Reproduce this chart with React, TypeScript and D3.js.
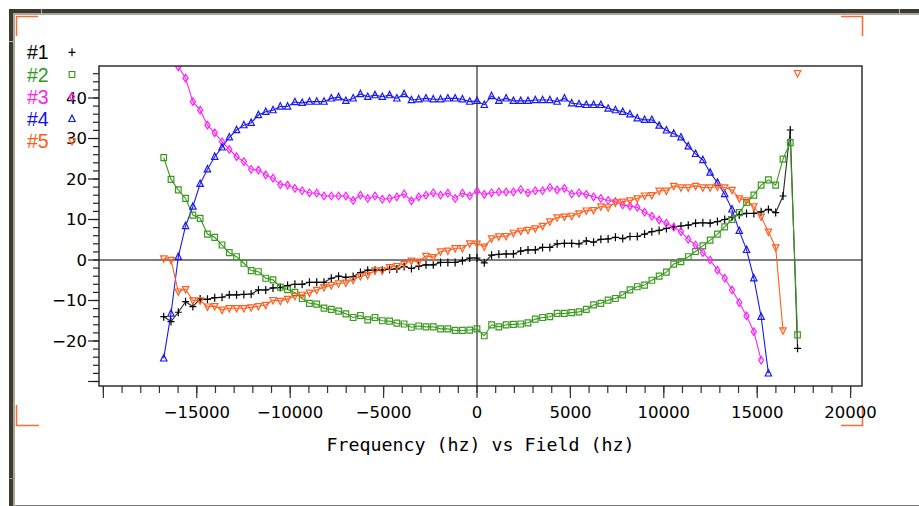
import React from "react";
import * as d3 from "d3";

// Frequency samples (Hz)
const freqs = [
  -16770, -16380, -15990, -15600, -15210, -14820, -14430, -14040, -13650, -13260,
  -12870, -12480, -12090, -11700, -11310, -10920, -10530, -10140, -9750, -9360,
  -8970, -8580, -8190, -7800, -7410, -7020, -6630, -6240, -5850, -5460,
  -5070, -4680, -4290, -3900, -3510, -3120, -2730, -2340, -1950, -1560,
  -1170, -780, -390, 0, 390, 780, 1170, 1560, 1950, 2340,
  2730, 3120, 3510, 3900, 4290, 4680, 5070, 5460, 5850, 6240,
  6630, 7020, 7410, 7800, 8190, 8580, 8970, 9360, 9750, 10140,
  10530, 10920, 11310, 11700, 12090, 12480, 12870, 13260, 13650, 14040,
  14430, 14820, 15210, 15600, 15990, 16380, 16770, 17160,
];

const series1: (number | null)[] = [
  -14.0, -15.2, -12.9, -10.3, -11.5, -9.6, -9.7, -9.3, -9.2, -8.6,
  -8.6, -8.5, -8.4, -7.4, -7.4, -6.9, -6.8, -6.3, -6.0, -6.0,
  -5.5, -5.5, -5.5, -4.5, -4.0, -4.3, -4.1, -3.1, -2.5, -2.5,
  -2.5, -2.3, -2.2, -1.6, -2.1, -1.5, -1.2, -1.2, -0.6, -0.6,
  -0.6, -0.2, 0.5, 0.5, -0.7, 1.2, 1.4, 1.5, 1.5, 2.2,
  2.5, 2.5, 3.1, 3.1, 4.0, 4.1, 4.1, 4.0, 4.7, 4.4,
  5.1, 5.2, 5.6, 5.3, 5.8, 5.8, 6.4, 7.0, 7.3, 7.8,
  8.2, 8.4, 8.6, 9.1, 9.2, 9.1, 9.5, 10.0, 10.7, 11.1,
  11.5, 11.5, 11.9, 12.5, 11.7, 15.8, 32.1, -21.8,
];

const series2: (number | null)[] = [
  25.3, 19.9, 17.3, 15.2, 11.1, 10.3, 6.4, 5.6, 3.7, 1.8,
  0.8, -0.8, -2.6, -2.9, -4.5, -4.9, -6.7, -7.3, -8.0, -9.5,
  -10.7, -10.9, -11.9, -12.2, -12.6, -13.3, -14.2, -13.7, -14.8, -14.2,
  -15.0, -15.1, -15.6, -15.8, -16.6, -16.3, -16.5, -16.5, -17.0, -17.0,
  -17.4, -17.4, -17.3, -17.0, -18.7, -16.0, -16.5, -16.0, -15.9, -15.8,
  -15.5, -14.6, -14.2, -14.0, -13.2, -13.2, -13.0, -12.8, -12.2, -11.1,
  -10.7, -9.9, -9.5, -8.6, -7.4, -6.6, -6.2, -5.0, -4.0, -3.0,
  -1.0, -0.4, 0.8, 2.1, 3.5, 4.9, 6.4, 8.2, 10.0, 11.7,
  14.2, 16.0, 18.5, 19.8, 18.5, 24.9, 29.0, -18.5,
];

const series3: (number | null)[] = [
  60.0, 53.0, 47.7, 44.9, 39.1, 37.0, 33.3, 31.4, 29.2, 27.3,
  25.5, 24.3, 22.4, 22.2, 21.0, 20.2, 18.6, 18.5, 17.7, 17.1,
  16.6, 16.5, 15.8, 15.8, 15.8, 15.8, 14.7, 16.0, 15.2, 15.8,
  15.0, 15.2, 15.6, 16.3, 14.6, 15.6, 16.0, 16.6, 16.0, 16.5,
  15.2, 16.5, 15.8, 17.0, 16.2, 16.6, 16.8, 16.8, 16.8, 17.4,
  16.6, 17.1, 17.1, 17.9, 17.3, 17.7, 16.3, 16.6, 16.2, 15.6,
  15.2, 14.7, 14.4, 13.6, 13.3, 13.0, 11.8, 10.8, 9.9, 9.1,
  8.1, 7.0, 5.1, 3.7, 1.8, 0.0, -2.5, -4.5, -7.4, -10.5,
  -13.8, -17.7, -24.7, null, null, null, null, null,
];

const series4: (number | null)[] = [
  -24.3, -13.2, 0.8, 8.4, 13.2, 18.8, 22.4, 25.5, 27.8, 30.3,
  32.1, 33.3, 33.9, 35.8, 36.6, 37.0, 37.9, 37.9, 39.0, 38.8,
  39.1, 39.1, 39.1, 39.9, 40.2, 39.3, 39.9, 41.0, 40.3, 40.7,
  40.3, 40.7, 39.9, 41.0, 39.5, 39.7, 39.9, 39.7, 39.7, 39.9,
  39.9, 39.7, 39.1, 39.3, 38.3, 40.5, 39.3, 39.9, 39.3, 39.3,
  39.3, 39.5, 39.5, 39.5, 39.1, 39.9, 38.7, 38.5, 38.3, 38.3,
  38.3, 37.4, 37.0, 36.6, 36.0, 35.0, 34.6, 34.6, 33.2, 32.0,
  31.2, 30.3, 28.1, 26.2, 24.7, 21.6, 19.1, 16.3, 12.5, 7.2,
  2.5, -4.5, -14.0, -28.0, null, null, null, null,
];

const series5: (number | null)[] = [
  0.4, 0.0, -7.8, -7.2, -10.0, -10.0, -11.5, -11.4, -12.3, -11.9,
  -11.9, -11.9, -11.7, -11.4, -11.1, -9.9, -10.1, -9.6, -8.9, -8.6,
  -8.1, -7.4, -6.7, -6.2, -5.8, -5.6, -4.9, -4.0, -3.7, -2.6,
  -2.6, -1.8, -1.5, -1.0, -0.2, -0.4, 1.0, 0.7, 2.1, 2.3,
  2.9, 2.9, 4.1, 4.0, 3.3, 5.3, 5.8, 5.9, 6.7, 7.2,
  7.4, 7.8, 8.4, 9.5, 10.5, 10.7, 10.9, 11.5, 12.2, 12.3,
  13.2, 13.0, 14.2, 14.4, 14.7, 15.2, 15.9, 16.0, 17.1, 17.1,
  18.3, 17.9, 17.9, 18.3, 17.9, 17.9, 18.1, 17.9, 17.3, 15.2,
  14.7, 13.2, 10.7, 7.0, 3.1, -17.4, null, 46.1,
];

const seriesNames = ["#1", "#2", "#3", "#4", "#5"];
const seriesColors = ["#000000", "#3a9a1e", "#ff22ff", "#1a1aee", "#ff5f1f"];
const legendColors = ["#000000", "#2f9a1a", "#ff22ee", "#1212e6", "#ff5a14"];
const seriesMarkers = ["plus", "square", "diamond", "triUp", "triDown"];
const allSeries = [series1, series2, series3, series4, series5];

const xMajorTicks = [-20000, -15000, -10000, -5000, 0, 5000, 10000, 15000, 20000];
const xTickLabels = ["", "−15000", "−10000", "−5000", "0", "5000", "10000", "15000", "20000"];
const yMajorTicks = [-30, -20, -10, 0, 10, 20, 30, 40];
const yTickLabels = ["", "−20", "−10", "0", "10", "20", "30", "40"];

const xTitle = "Frequency (hz) vs Field (hz)";

const W = 919;
const H = 506;
const PL = 99;
const PR = 862;
const PT = 66;
const PB = 386;

function markerPath(kind: string, x: number, y: number): string {
  switch (kind) {
    case "plus":
      return `M${x - 3.5},${y}H${x + 3.5}M${x},${y - 4}V${y + 4}`;
    case "square":
      return `M${x - 2.8},${y - 3}h5.6v6h-5.6Z`;
    case "diamond":
      return `M${x},${y - 3.8}L${x + 2.6},${y}L${x},${y + 3.8}L${x - 2.6},${y}Z`;
    case "triUp":
      return `M${x},${y - 3.8}L${x + 3.2},${y + 2.6}L${x - 3.2},${y + 2.6}Z`;
    case "triDown":
      return `M${x},${y + 3.8}L${x + 3.2},${y - 2.6}L${x - 3.2},${y - 2.6}Z`;
    default:
      return "";
  }
}

export default function App() {
  const x = d3.scaleLinear().domain([-20235, 20610]).range([PL, PR]);
  const y = d3.scaleLinear().domain([(260 - PB) / 4.05, (260 - PT) / 4.05]).range([PB, PT]);

  const xMinor = d3.range(-20000, 20001, 1000);
  const yMinor = d3.range(-30, 47, 2);

  const line = d3
    .line<number | null>()
    .defined((d) => d !== null)
    .x((_, i) => x(freqs[i]))
    .y((d) => y(d as number));

  const tickFont = "'DejaVu Sans', sans-serif";
  const orange = "#ff6a33";

  const legendBase = [59.3, 81.5, 103.7, 125.9, 148.1];

  return (
    <div style={{ position: "fixed", left: 0, top: 0, width: W, height: H, background: "#fff" }}>
      <svg width={W} height={H} viewBox={`0 0 ${W} ${H}`} style={{ display: "block" }}>
        <defs>
          <clipPath id="plotClip">
            <rect x={PL} y={PT} width={PR - PL} height={PB - PT} />
          </clipPath>
        </defs>
        <rect x={0} y={0} width={W} height={H} fill="#ffffff" />

        {/* window frame */}
        <rect x={9} y={9} width={W - 9} height={4} fill="#3c3b32" />
        <rect x={13} y={13} width={W - 13} height={2} fill="#a8a698" />
        <rect x={9} y={9} width={4} height={H - 9} fill="#3c3b32" />
        <rect x={13} y={13} width={2} height={H - 13} fill="#a8a698" />
        <line x1={41.5} y1={9} x2={41.5} y2={15} stroke="#b8b6aa" strokeWidth={1} />
        <line x1={899.5} y1={9} x2={899.5} y2={15} stroke="#b8b6aa" strokeWidth={1} />
        <line x1={9} y1={41.5} x2={15} y2={41.5} stroke="#b8b6aa" strokeWidth={1} />
        <line x1={9} y1={478.5} x2={15} y2={478.5} stroke="#8a887c" strokeWidth={1} />
        <line x1={15} y1={505.5} x2={W} y2={505.5} stroke="#777" strokeWidth={1} />

        {/* corner marks */}
        <g stroke={orange} strokeWidth={1.5} fill="none">
          <path d="M16.5,36 V16.5 H38" />
          <path d="M841,16.5 H862.5 V36" />
          <path d="M16.5,405 V425.5 H39" />
          <path d="M841,425.5 H862.5 V405" />
        </g>

        {/* x ticks */}
        <g stroke="#333" strokeWidth={1.2}>
          {xMinor.map((t) => (
            <line key={"xm" + t} x1={x(t)} x2={x(t)} y1={PB} y2={PB + 7} />
          ))}
          {xMajorTicks.map((t) => (
            <line key={"xM" + t} x1={x(t)} x2={x(t)} y1={PB} y2={PB + 12} />
          ))}
        </g>
        <g fontFamily={tickFont} fontSize={16.5} fill="#000" textAnchor="middle">
          {xMajorTicks.map((t, i) => (
            <text key={"xl" + t} x={x(t)} y={418}>
              {xTickLabels[i]}
            </text>
          ))}
        </g>

        {/* y ticks */}
        <g stroke="#222" strokeWidth={1.2}>
          {yMinor.map((t) => (
            <line key={"ym" + t} x1={PL - 6} x2={PL} y1={y(t)} y2={y(t)} />
          ))}
          {yMajorTicks.map((t) => (
            <line key={"yM" + t} x1={PL - 11} x2={PL} y1={y(t)} y2={y(t)} />
          ))}
        </g>
        <g fontFamily={tickFont} fontSize={16.5} fill="#000" textAnchor="end">
          {yMajorTicks.map((t, i) => (
            <text key={"yl" + t} x={87} y={y(t)} dy="0.36em">
              {yTickLabels[i]}
            </text>
          ))}
        </g>

        {/* zero lines */}
        <line x1={PL} x2={PR} y1={y(0)} y2={y(0)} stroke="#555" strokeWidth={1.5} />
        <line x1={x(0)} x2={x(0)} y1={PT} y2={PB} stroke="#555" strokeWidth={1.5} />

        {/* series */}
        <g clipPath="url(#plotClip)">
          {allSeries.map((s, si) => (
            <path
              key={"l" + si}
              d={line(s) || ""}
              fill="none"
              stroke={seriesColors[si]}
              strokeWidth={1.1}
              opacity={si === 0 ? 0.85 : 1}
            />
          ))}
          {allSeries.map((s, si) => (
            <path
              key={"m" + si}
              d={s
                .map((v, i) => (v === null ? "" : markerPath(seriesMarkers[si], x(freqs[i]), y(v))))
                .join("")}
              fill="none"
              stroke={seriesColors[si]}
              strokeWidth={1.2}
            />
          ))}
        </g>

        {/* plot frame */}
        <rect x={PL} y={PT} width={PR - PL} height={PB - PT} fill="none" stroke="#222" strokeWidth={1.4} />

        {/* legend */}
        {seriesNames.map((n, i) => (
          <g key={"lg" + i}>
            <text
              x={27}
              y={legendBase[i]}
              fontFamily="'Liberation Sans', Arial, sans-serif"
              fontSize={19.5}
              fill={legendColors[i]}
            >
              {n}
            </text>
            <path
              d={markerPath(seriesMarkers[i], 72, legendBase[i] - 7)}
              fill="none"
              stroke={seriesColors[i]}
              strokeWidth={1.2}
            />
          </g>
        ))}

        {/* x title */}
        <text
          x={480.5}
          y={451}
          fontFamily="'DejaVu Sans Mono', monospace"
          fontSize={18.3}
          fill="#000"
          textAnchor="middle"
        >
          {xTitle}
        </text>
      </svg>
    </div>
  );
}
